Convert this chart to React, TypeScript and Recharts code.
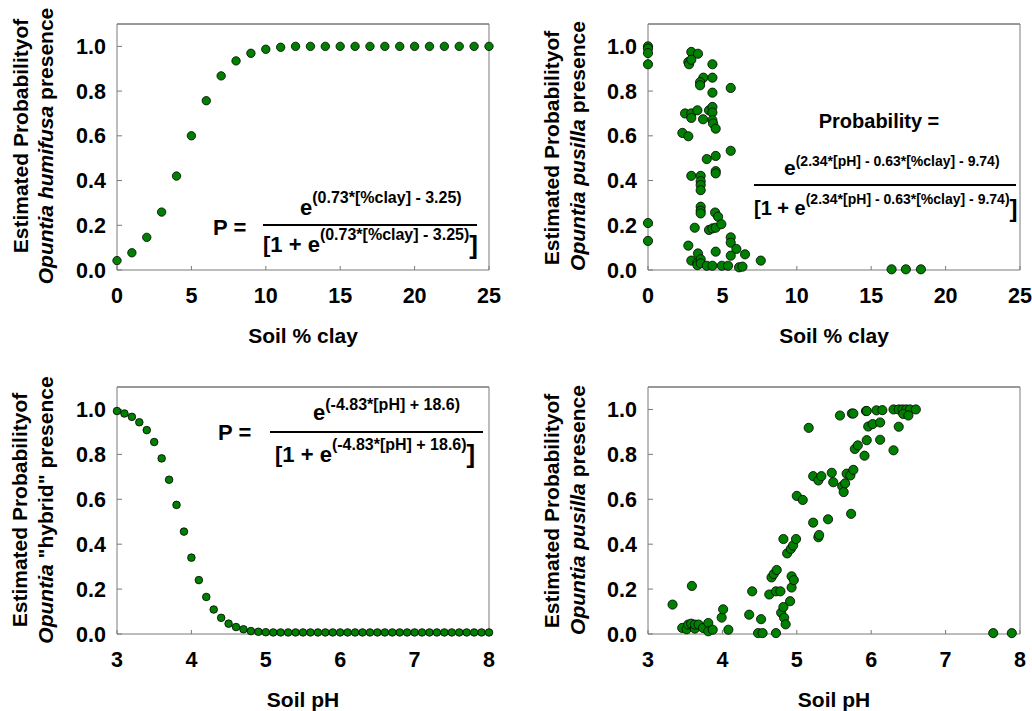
import React from "react";
import { ReferenceLine, Scatter, ScatterChart, XAxis, YAxis } from "recharts";

// Opuntia humifusa vs soil % clay (fitted curve points)
const humifusaClay = [0, 1, 2, 3, 4, 5, 6, 7, 8, 9, 10, 11, 12, 13, 14, 15, 16, 17, 18, 19, 20, 21, 22, 23, 24, 25];
const humifusaProb = [0.042, 0.077, 0.146, 0.259, 0.42, 0.6, 0.757, 0.868, 0.935, 0.969, 0.987, 0.996, 1.0, 1.0, 1.0, 1.0, 1.0, 1.0, 1.0, 1.0, 1.0, 1.0, 1.0, 1.0, 1.0, 1.0];

// Opuntia pusilla vs soil % clay
const pusillaClay = [
  0, 0, 0, 0, 0, 0,
  2.91, 3.36, 2.71, 2.76, 2.91, 4.33,
  3.72, 3.5, 3.5, 4.33, 4.33, 5.56,
  2.49, 2.91, 2.91, 3.32, 3.7, 4.1, 4.33, 4.33, 4.33, 4.37, 4.55,
  2.31, 2.71, 3.95, 4.55, 5.56, 4.55, 4.55, 2.91,
  3.54, 3.54, 3.54, 3.54, 3.54, 3.54, 3.54, 4.51, 4.71,
  3.14, 4.1, 4.33, 4.55, 4.93, 5.56, 5.56, 5.94, 2.71, 3.36, 4.55, 5.56, 6.52, 7.58,
  2.91, 3.32, 3.32, 3.54, 3.54, 3.95, 4.33, 4.96, 5.38, 6.12, 6.35,
  16.37, 17.33, 18.34,
];
const pusillaClayProb = [
  1.0, 0.99, 0.97, 0.92, 0.21, 0.13,
  0.975, 0.967, 0.93, 0.92, 0.94, 0.92,
  0.86, 0.84, 0.826, 0.86, 0.793, 0.814,
  0.7, 0.7, 0.68, 0.714, 0.674, 0.714, 0.729, 0.704, 0.67, 0.655, 0.632,
  0.613, 0.598, 0.496, 0.51, 0.533, 0.442, 0.432, 0.421,
  0.421, 0.397, 0.38, 0.357, 0.283, 0.265, 0.253, 0.257, 0.238,
  0.189, 0.179, 0.186, 0.189, 0.205, 0.146, 0.122, 0.094, 0.109, 0.074, 0.082, 0.064, 0.07, 0.042,
  0.042, 0.033, 0.022, 0.048, 0.03, 0.019, 0.019, 0.019, 0.019, 0.012, 0.015,
  0.003, 0.003, 0.003,
];

// Opuntia "hybrid" vs soil pH (fitted curve points)
const hybridPH = [
  3.0, 3.1, 3.2, 3.3, 3.4, 3.5, 3.6, 3.7, 3.8, 3.9,
  4.0, 4.1, 4.2, 4.3, 4.4, 4.5, 4.6, 4.7, 4.8, 4.9,
  5.0, 5.1, 5.2, 5.3, 5.4, 5.5, 5.6, 5.7, 5.8, 5.9,
  6.0, 6.1, 6.2, 6.3, 6.4, 6.5, 6.6, 6.7, 6.8, 6.9,
  7.0, 7.1, 7.2, 7.3, 7.4, 7.5, 7.6, 7.7, 7.8, 7.9, 8.0,
];
const hybridProb = [
  0.993, 0.982, 0.967, 0.943, 0.908, 0.855, 0.782, 0.687, 0.575, 0.456,
  0.34, 0.24, 0.165, 0.109, 0.072, 0.046, 0.031, 0.021, 0.013, 0.01,
  0.008, 0.007, 0.007, 0.007, 0.007, 0.007, 0.007, 0.007, 0.007, 0.007,
  0.007, 0.007, 0.007, 0.007, 0.007, 0.007, 0.007, 0.007, 0.007, 0.007,
  0.007, 0.007, 0.007, 0.007, 0.007, 0.007, 0.007, 0.007, 0.007, 0.007, 0.007,
];

// Opuntia pusilla vs soil pH
const pusillaPH = [
  3.33, 3.59, 3.46, 3.52, 3.54, 3.58, 3.63, 3.63, 3.68, 3.74, 3.81, 3.81, 3.87,
  3.99, 4.01, 4.08, 4.36, 4.4, 4.48, 4.54, 4.52, 4.63, 4.66, 4.69, 4.73, 4.72, 4.78, 4.72,
  4.79, 4.82, 4.83, 4.85, 4.82, 4.91, 4.93, 4.93, 4.96, 4.87, 4.92, 4.95, 4.99,
  5.0, 5.08, 5.16, 5.22, 5.29, 5.33, 5.22, 5.29, 5.3, 5.42, 5.47, 5.49,
  5.58, 5.74, 5.76, 5.61, 5.63, 5.65, 5.67, 5.72, 5.76, 5.73, 5.78, 5.82, 5.91,
  5.93, 5.94, 5.94, 5.96, 6.02, 6.07, 6.15, 6.12, 6.12, 6.3,
  6.3, 6.37, 6.42, 6.47, 6.52, 6.6, 6.37, 6.43, 6.5,
  7.64, 7.89,
];
const pusillaPHProb = [
  0.131, 0.214, 0.027, 0.021, 0.042, 0.046, 0.024, 0.042, 0.042, 0.027, 0.049, 0.012, 0.019,
  0.073, 0.11, 0.019, 0.086, 0.19, 0.004, 0.004, 0.066, 0.176, 0.252, 0.267, 0.285, 0.19, 0.19, 0.004,
  0.095, 0.12, 0.072, 0.043, 0.423, 0.146, 0.207, 0.257, 0.24, 0.359, 0.379, 0.394, 0.423,
  0.615, 0.597, 0.918, 0.703, 0.684, 0.703, 0.496, 0.431, 0.441, 0.511, 0.718, 0.676,
  0.973, 0.982, 0.982, 0.658, 0.632, 0.671, 0.714, 0.706, 0.731, 0.535, 0.824, 0.84, 0.794,
  0.993, 0.993, 0.863, 0.924, 0.935, 0.996, 0.997, 0.942, 0.865, 0.818,
  1.0, 1.0, 1.0, 1.0, 1.0, 1.0, 0.923, 0.98, 0.973,
  0.004, 0.004,
];

const probTicks = [0, 0.2, 0.4, 0.6, 0.8, 1.0];
const clayTicks = [0, 5, 10, 15, 20, 25];
const phTicks = [3, 4, 5, 6, 7, 8];

const FONT = "'Liberation Sans', Arial, Helvetica, sans-serif";
const GREEN = "#008000";
const AXIS = "#7a7a7a";
const TICK_SIZE = 21.5;

const zip = (xs: number[], ys: number[]) => xs.map((x, i) => ({ x, y: ys[i] }));

const dot = (r: number) => (props: any) => (
  <circle cx={props.cx} cy={props.cy} r={r} fill={GREEN} stroke="#000" strokeWidth={0.8} />
);

const XTick = (props: any) => (
  <text
    x={props.x}
    y={props.y}
    dy={15}
    textAnchor="middle"
    fontFamily={FONT}
    fontWeight="bold"
    fontSize={TICK_SIZE}
    fill="#000"
  >
    {props.payload.value}
  </text>
);

const YTick = (props: any) => (
  <text
    x={props.x}
    y={props.y}
    dy={7.6}
    textAnchor="end"
    fontFamily={FONT}
    fontWeight="bold"
    fontSize={TICK_SIZE}
    fill="#000"
  >
    {Number(props.payload.value).toFixed(1)}
  </text>
);

interface PanelProps {
  left: number;
  top: number;
  height: number;
  marginLeft: number;
  marginRight: number;
  marginTop: number;
  marginBottom: number;
  data: { x: number; y: number }[];
  xDomain: [number, number];
  xTicks: number[];
  r: number;
}

function Panel({ left, top, height, marginLeft, marginRight, marginTop, marginBottom, data, xDomain, xTicks, r }: PanelProps) {
  return (
    <div style={{ position: "absolute", left, top }}>
      <ScatterChart
        width={516}
        height={height}
        margin={{ top: marginTop, right: marginRight, bottom: marginBottom, left: marginLeft }}
      >
        <XAxis
          type="number"
          dataKey="x"
          domain={xDomain}
          ticks={xTicks}
          interval={0}
          height={60}
          tickSize={-4}
          tickMargin={22}
          axisLine={{ stroke: AXIS }}
          tickLine={{ stroke: AXIS }}
          tick={XTick}
        />
        <YAxis
          type="number"
          dataKey="y"
          domain={[0, 1.1]}
          ticks={probTicks}
          interval={0}
          width={60}
          tickSize={-5}
          tickMargin={16}
          axisLine={{ stroke: AXIS }}
          tickLine={{ stroke: AXIS }}
          tick={YTick}
        />
        <ReferenceLine y={1.1} stroke="#333" strokeWidth={1} />
        <ReferenceLine x={xDomain[1]} stroke={AXIS} strokeWidth={1} />
        <Scatter data={data} shape={dot(r)} isAnimationActive={false} />
      </ScatterChart>
    </div>
  );
}

function YTitle({ x1, x2, cy1, cy2, species }: { x1: number; x2: number; cy1: number; cy2: number; species: React.ReactNode }) {
  return (
    <g fontFamily={FONT} fontWeight="bold" fontSize={21} fill="#000">
      <text transform={`translate(${x1},${cy1}) rotate(-90)`} textAnchor="middle" dominantBaseline="central">
        Estimated Probabilityof
      </text>
      <text transform={`translate(${x2},${cy2}) rotate(-90)`} textAnchor="middle" dominantBaseline="central">
        {species}
      </text>
    </g>
  );
}

function Overlay() {
  return (
    <svg
      width={1032}
      height={711}
      style={{ position: "absolute", left: 0, top: 0, pointerEvents: "none" }}
    >
      <YTitle
        x1={20}
        x2={45}
        cy1={136}
        cy2={146}
        species={<><tspan fontStyle="italic">Opuntia humifusa</tspan> presence</>}
      />
      <YTitle
        x1={551}
        x2={577}
        cy1={148}
        cy2={146}
        species={<><tspan fontStyle="italic">Opuntia pusilla</tspan> presence</>}
      />
      <YTitle
        x1={19}
        x2={45}
        cy1={510}
        cy2={510}
        species={<><tspan fontStyle="italic">Opuntia</tspan> "hybrid" presence</>}
      />
      <YTitle
        x1={551}
        x2={577}
        cy1={511}
        cy2={510}
        species={<><tspan fontStyle="italic">Opuntia pusilla</tspan> presence</>}
      />

      <g fontFamily={FONT} fontWeight="bold" fontSize={21} fill="#000" textAnchor="middle">
        <text x={303} y={343}>Soil % clay</text>
        <text x={834} y={343}>Soil % clay</text>
        <text x={303} y={707}>Soil pH</text>
        <text x={834} y={707}>Soil pH</text>
      </g>

      {/* equation, top-left */}
      <g fontFamily={FONT} fontWeight="bold" fill="#000">
        <text x={213} y={235} fontSize={22}>P =</text>
        <line x1={263} x2={477} y1={225} y2={225} stroke="#000" strokeWidth={2} />
        <text x={300} y={215} fontSize={22}>
          e<tspan fontSize={16} dy={-12}>(0.73*[%clay] - 3.25)</tspan>
        </text>
        <text x={263} y={252} fontSize={22}>
          [1 + e<tspan fontSize={16} dy={-12}>(0.73*[%clay] - 3.25)</tspan>
          <tspan fontSize={26} dy={14}>]</tspan>
        </text>
      </g>

      {/* equation, top-right */}
      <g fontFamily={FONT} fontWeight="bold" fill="#000">
        <text x={879} y={128} fontSize={20} textAnchor="middle">Probability =</text>
        <line x1={754} x2={1016} y1={185} y2={185} stroke="#000" strokeWidth={2} />
        <text x={784} y={175} fontSize={21}>
          e<tspan fontSize={14} dy={-9}>(2.34*[pH] - 0.63*[%clay] - 9.74)</tspan>
        </text>
        <text x={754} y={215} fontSize={20}>
          [1 + e<tspan fontSize={14} dy={-11}>(2.34*[pH] - 0.63*[%clay] - 9.74)</tspan>
          <tspan fontSize={24} dy={13}>]</tspan>
        </text>
      </g>

      {/* equation, bottom-left */}
      <g fontFamily={FONT} fontWeight="bold" fill="#000">
        <text x={218} y={440} fontSize={22}>P =</text>
        <line x1={270} x2={483} y1={432} y2={432} stroke="#000" strokeWidth={2} />
        <text x={313} y={420} fontSize={22}>
          e<tspan fontSize={16} dy={-10}>(-4.83*[pH] + 18.6)</tspan>
        </text>
        <text x={275} y={462} fontSize={22}>
          [1 + e<tspan fontSize={16} dy={-12}>(-4.83*[pH] + 18.6)</tspan>
          <tspan fontSize={26} dy={13}>]</tspan>
        </text>
      </g>
    </svg>
  );
}

export default function App() {
  return (
    <div style={{ position: "absolute", left: 0, top: 0, width: 1032, height: 711, background: "#fff" }}>
      <Panel
        left={0}
        top={0}
        height={355}
        marginLeft={57}
        marginRight={27}
        marginTop={24}
        marginBottom={25}
        data={zip(humifusaClay, humifusaProb)}
        xDomain={[0, 25]}
        xTicks={clayTicks}
        r={4.2}
      />
      <Panel
        left={516}
        top={0}
        height={355}
        marginLeft={72}
        marginRight={12}
        marginTop={24}
        marginBottom={25}
        data={zip(pusillaClay, pusillaClayProb)}
        xDomain={[0, 25]}
        xTicks={clayTicks}
        r={4.6}
      />
      <Panel
        left={0}
        top={355}
        height={356}
        marginLeft={57}
        marginRight={27}
        marginTop={32}
        marginBottom={17}
        data={zip(hybridPH, hybridProb)}
        xDomain={[3, 8]}
        xTicks={phTicks}
        r={3.8}
      />
      <Panel
        left={516}
        top={355}
        height={356}
        marginLeft={72}
        marginRight={12}
        marginTop={32}
        marginBottom={17}
        data={zip(pusillaPH, pusillaPHProb)}
        xDomain={[3, 8]}
        xTicks={phTicks}
        r={4.6}
      />
      <Overlay />
    </div>
  );
}
